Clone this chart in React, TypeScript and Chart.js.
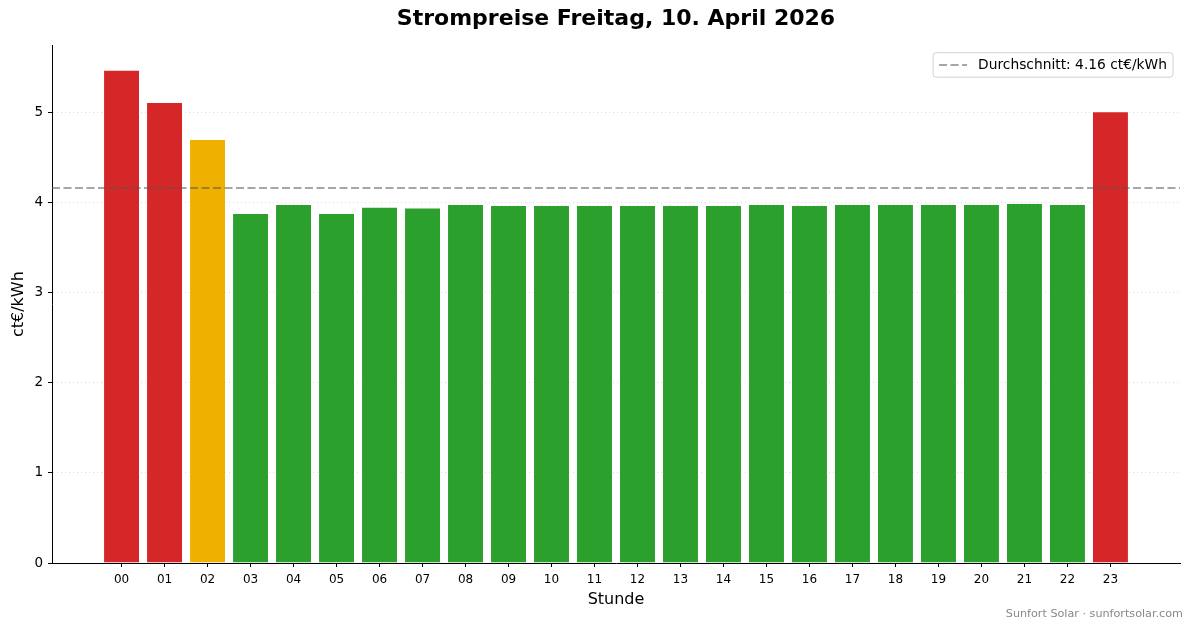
import React, { useEffect, useRef } from 'react';
import { Chart, registerables } from 'chart.js';

Chart.register(...registerables);

const FONT = '"DejaVu Sans", sans-serif';

const hours = ['00', '01', '02', '03', '04', '05', '06', '07', '08', '09', '10', '11', '12', '13', '14', '15', '16', '17', '18', '19', '20', '21', '22', '23'];
const prices = [5.47, 5.11, 4.70, 3.88, 3.98, 3.88, 3.95, 3.94, 3.98, 3.97, 3.97, 3.97, 3.97, 3.97, 3.97, 3.98, 3.97, 3.98, 3.98, 3.98, 3.98, 3.99, 3.98, 5.01];
const average = 4.16;
const yTicks = [0, 1, 2, 3, 4, 5];
const titleText = 'Strompreise Freitag, 10. April 2026';
const xLabel = 'Stunde';
const yLabel = 'ct€/kWh';
const legendLabel = 'Durchschnitt: 4.16 ct€/kWh';
const footerText = 'Sunfort Solar · sunfortsolar.com';

const RED = '#d62728';
const ORANGE = '#f0b000';
const GREEN = '#2ca02c';
const priceColor = (v: number) => (v >= 5 ? RED : v >= 4.5 ? ORANGE : GREEN);

const AVG_COLOR = 'rgba(85,85,85,0.7)';
const AVG_DASH = [8, 3.5];
const BAR_WIDTH = 0.85;

const legendPlugin = {
  id: 'boxLegend',
  afterDraw(chart: any) {
    const { ctx, chartArea } = chart;
    ctx.save();
    ctx.font = `13.8px ${FONT}`;
    const tw = ctx.measureText(legendLabel).width;
    const h = 24.5;
    const w = 6 + 28 + 11 + tw + 6;
    const right = chartArea.right - 7;
    const top = chartArea.top + 7.5;
    const left = right - w;
    ctx.beginPath();
    ctx.roundRect(left, top, w, h, 3);
    ctx.fillStyle = 'rgba(255,255,255,0.8)';
    ctx.fill();
    ctx.lineWidth = 1;
    ctx.strokeStyle = '#d0d0d0';
    ctx.stroke();
    const cy = top + h / 2;
    ctx.beginPath();
    ctx.setLineDash(AVG_DASH);
    ctx.lineWidth = 1.5;
    ctx.strokeStyle = AVG_COLOR;
    ctx.moveTo(left + 6, cy);
    ctx.lineTo(left + 34, cy);
    ctx.stroke();
    ctx.setLineDash([]);
    ctx.fillStyle = '#000';
    ctx.textAlign = 'left';
    ctx.textBaseline = 'middle';
    ctx.fillText(legendLabel, left + 45, cy);
    ctx.restore();
  },
};

const footerPlugin = {
  id: 'footer',
  afterDraw(chart: any) {
    const { ctx } = chart;
    ctx.save();
    ctx.font = `11.2px ${FONT}`;
    ctx.fillStyle = '#888';
    ctx.textAlign = 'right';
    ctx.textBaseline = 'alphabetic';
    ctx.fillText(footerText, chart.width - 10, 616.5);
    ctx.restore();
  },
};

export default function App() {
  const ref = useRef<HTMLCanvasElement | null>(null);

  useEffect(() => {
    if (!ref.current) return;
    const n = hours.length;
    const half = BAR_WIDTH / 2;
    const pad = 0.05 * (n - 1 + BAR_WIDTH);
    const xMin = -half - pad;
    const xMax = n - 1 + half + pad;
    const yMax = Math.max(...prices) * 1.05;

    const chart = new Chart(ref.current, {
      type: 'bar',
      data: {
        datasets: [
          {
            type: 'line',
            label: legendLabel,
            data: [
              { x: xMin, y: average },
              { x: xMax, y: average },
            ],
            borderColor: AVG_COLOR,
            borderWidth: 1.5,
            borderDash: AVG_DASH,
            pointRadius: 0,
            fill: false,
            order: 0,
          } as any,
          {
            type: 'bar',
            label: 'Preis',
            data: prices.map((v, i) => ({ x: i, y: v })),
            backgroundColor: prices.map(priceColor),
            borderColor: '#ffffff',
            borderWidth: 0.8,
            barPercentage: BAR_WIDTH,
            categoryPercentage: 1,
            order: 1,
          } as any,
        ],
      },
      options: {
        animation: false,
        responsive: true,
        maintainAspectRatio: false,
        layout: { padding: { left: 0, right: 13, top: 0, bottom: 0 } },
        plugins: {
          legend: { display: false },
          tooltip: { enabled: false },
          title: {
            display: true,
            text: titleText,
            fullSize: false,
            color: '#000',
            font: { size: 22, weight: 'bold', family: FONT },
            padding: { top: 5.8, bottom: 13 },
          },
        },
        scales: {
          x: {
            type: 'linear',
            min: xMin,
            max: xMax,
            offset: false,
            afterBuildTicks: (s: any) => {
              s.ticks = hours.map((_, i) => ({ value: i }));
            },
            afterFit: (s: any) => {
              s.height = 65;
            },
            ticks: {
              callback: (v: any) => hours[v] ?? '',
              autoSkip: false,
              maxRotation: 0,
              color: '#000',
              font: { size: 12, family: FONT },
              padding: 6,
            },
            grid: {
              display: true,
              offset: false,
              drawOnChartArea: false,
              drawTicks: true,
              tickLength: 4,
              tickColor: '#000',
              tickWidth: 1,
            },
            border: { display: true, color: '#000', width: 1 },
            title: {
              display: true,
              text: xLabel,
              color: '#000',
              font: { size: 16, family: FONT },
              padding: { top: 0, bottom: 18.4 },
            },
          },
          y: {
            type: 'linear',
            min: 0,
            max: yMax,
            afterBuildTicks: (s: any) => {
              s.ticks = yTicks.map((v) => ({ value: v }));
            },
            afterFit: (s: any) => {
              s.width = 52;
            },
            ticks: {
              color: '#000',
              font: { size: 13.5, family: FONT },
              padding: 5,
            },
            grid: {
              color: 'rgba(0,0,0,0.18)',
              lineWidth: 0.8,
              tickLength: 4,
              tickColor: '#000',
              tickWidth: 1,
            },
            border: { display: true, color: '#000', width: 1, dash: [1, 3] },
            title: {
              display: true,
              text: yLabel,
              color: '#000',
              font: { size: 16, family: FONT },
              padding: { top: 8.8, bottom: 0 },
            },
          },
        },
      } as any,
      plugins: [legendPlugin, footerPlugin],
    });
    return () => chart.destroy();
  }, []);

  return (
    <div style={{ position: 'fixed', left: 0, top: 0, width: 1193, height: 628, background: '#fff' }}>
      <canvas ref={ref} />
    </div>
  );
}
